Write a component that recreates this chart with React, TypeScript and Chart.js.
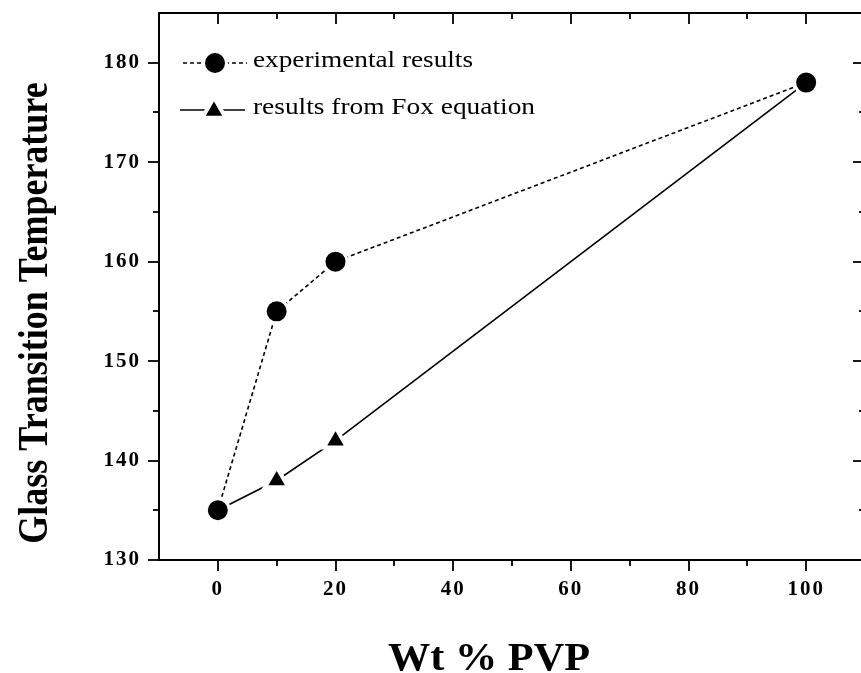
import React, { useEffect, useRef } from "react";
import { Chart, registerables } from "chart.js";

Chart.register(...registerables);

// ---- data ----
const wtPVP = [0, 10, 20, 100];
const experimental = [135, 155, 160, 178];
const foxEquation = [135, 138, 142, 178];
const xTickValues = [0, 20, 40, 60, 80, 100];
const xMinorValues = [10, 30, 50, 70, 90];
const yTickValues = [130, 140, 150, 160, 170, 180];
const yMinorValues = [135, 145, 155, 165, 175];
const seriesLabels = ["experimental results", "results from Fox equation"];
const xTitle = "Wt % PVP";
const yTitle = "Glass Transition Temperature";

const SERIF = "'Liberation Serif', 'Times New Roman', serif";
const W = 872;
const H = 673;

function fitText(ctx: CanvasRenderingContext2D, text: string, x: number, y: number, width: number) {
  const w = ctx.measureText(text).width;
  ctx.save();
  ctx.translate(x, y);
  ctx.scale(width / w, 1);
  ctx.fillText(text, 0, 0);
  ctx.restore();
}

function zeroPad(s: any) {
  s.paddingTop = 0;
  s.paddingBottom = 0;
  s.paddingLeft = 0;
  s.paddingRight = 0;
}

const framePlugin = {
  id: "frame",
  beforeDraw(chart: any) {
    (chart.ctx as any).letterSpacing = "2px";
  },
  beforeDatasetsDraw(chart: any) {
    const { ctx, chartArea: a, scales } = chart;
    const x = scales.x;
    const y = scales.y;
    ctx.save();
    (ctx as any).letterSpacing = "0px";
    ctx.strokeStyle = "#000";
    ctx.lineWidth = 2;
    ctx.strokeRect(a.left, a.top, a.right - a.left, a.bottom - a.top);
    ctx.lineWidth = 1.8;
    const seg = (x1: number, y1: number, x2: number, y2: number) => {
      ctx.beginPath();
      ctx.moveTo(x1, y1);
      ctx.lineTo(x2, y2);
      ctx.stroke();
    };
    xTickValues.forEach((v) => {
      const p = Math.round(x.getPixelForValue(v));
      seg(p, a.bottom, p, a.bottom + 11);
      seg(p, a.top, p, a.top + 11);
    });
    xMinorValues.forEach((v) => {
      const p = Math.round(x.getPixelForValue(v));
      seg(p, a.bottom, p, a.bottom + 6);
      seg(p, a.top, p, a.top + 6);
    });
    yTickValues.forEach((v) => {
      const p = Math.round(y.getPixelForValue(v));
      seg(a.left - 11, p, a.left, p);
      seg(a.right - 12, p, a.right, p);
    });
    yMinorValues.forEach((v) => {
      const p = Math.round(y.getPixelForValue(v));
      seg(a.left - 6, p, a.left, p);
      seg(a.right - 6, p, a.right, p);
    });
    ctx.restore();
  },
  afterDraw(chart: any) {
    const { ctx } = chart;
    ctx.save();
    (ctx as any).letterSpacing = "0px";
    ctx.fillStyle = "#000";
    ctx.strokeStyle = "#000";

    // legend row 1
    const r1 = 63;
    ctx.lineWidth = 1.6;
    ctx.setLineDash([4, 3]);
    ctx.beginPath();
    ctx.moveTo(183, r1);
    ctx.lineTo(247, r1);
    ctx.stroke();
    ctx.setLineDash([]);
    ctx.beginPath();
    ctx.arc(215, r1, 11.5, 0, Math.PI * 2);
    ctx.fillStyle = "#000";
    ctx.fill();
    ctx.lineWidth = 3;
    ctx.strokeStyle = "#fff";
    ctx.stroke();

    // legend row 2
    const r2 = 110;
    ctx.strokeStyle = "#000";
    ctx.lineWidth = 1.6;
    ctx.beginPath();
    ctx.moveTo(180, r2);
    ctx.lineTo(245, r2);
    ctx.stroke();
    const tr = 13.5;
    ctx.beginPath();
    for (let i = 0; i < 3; i++) {
      const ang = (i * 2 * Math.PI) / 3;
      const px = 214 + Math.sin(ang) * tr;
      const py = r2 + 1 - Math.cos(ang) * tr;
      if (i === 0) ctx.moveTo(px, py);
      else ctx.lineTo(px, py);
    }
    ctx.closePath();
    ctx.fillStyle = "#000";
    ctx.fill();
    ctx.lineWidth = 4;
    ctx.strokeStyle = "#fff";
    ctx.stroke();

    ctx.fillStyle = "#000";
    ctx.font = `24px ${SERIF}`;
    ctx.textBaseline = "middle";
    ctx.textAlign = "left";
    fitText(ctx, seriesLabels[0], 253, r1 - 2, 220);
    fitText(ctx, seriesLabels[1], 253, r2 - 2, 282);

    // x title
    ctx.font = `bold 40px ${SERIF}`;
    ctx.textBaseline = "alphabetic";
    ctx.textAlign = "left";
    fitText(ctx, xTitle, 388, 670, 202);

    // y title
    ctx.font = `bold 36px ${SERIF}`;
    ctx.save();
    ctx.translate(47, 313);
    ctx.rotate(-Math.PI / 2);
    ctx.scale(1, 1.2);
    ctx.textAlign = "center";
    ctx.textBaseline = "alphabetic";
    ctx.fillText(yTitle, 0, 0);
    ctx.restore();

    ctx.restore();
  },
};

export default function App() {
  const ref = useRef<HTMLCanvasElement>(null);
  useEffect(() => {
    document.body.style.overflow = "hidden";
    document.documentElement.style.overflow = "hidden";
    const canvas = ref.current!;
    const chart = new Chart(canvas, {
      type: "line",
      data: {
        datasets: [
          {
            label: seriesLabels[0],
            data: wtPVP.map((x, i) => ({ x, y: experimental[i] })),
            borderColor: "#000",
            borderWidth: 1.6,
            borderDash: [4, 3],
            pointStyle: "circle",
            pointRadius: 11.5,
            pointBorderWidth: 3,
            pointBorderColor: "#fff",
            pointBackgroundColor: "#000",
            tension: 0,
          },
          {
            label: seriesLabels[1],
            data: wtPVP.map((x, i) => ({ x, y: foxEquation[i] })),
            borderColor: "#000",
            borderWidth: 1.6,
            pointStyle: "triangle",
            pointRadius: [0, 13.5, 13.5, 0],
            pointBorderWidth: 4,
            pointBorderColor: "#fff",
            pointBackgroundColor: "#000",
            tension: 0,
          },
        ],
      },
      options: {
        responsive: false,
        animation: false,
        events: [],
        layout: { autoPadding: false, padding: { left: 0, right: W - 865, top: 13, bottom: 0 } },
        plugins: { legend: { display: false }, tooltip: { enabled: false } },
        scales: {
          x: {
            type: "linear",
            min: -10,
            max: 110,
            grid: { display: false, drawTicks: false },
            border: { display: false },
            ticks: {
              padding: 17,
              color: "#000",
              font: { family: SERIF, size: 21, weight: "bold" },
              maxRotation: 0,
              callback: (v: any) => String(v),
            },
            afterBuildTicks: (s: any) => {
              s.ticks = xTickValues.map((v) => ({ value: v }));
            },
            afterFit: (s: any) => {
              s.height = 113;
              zeroPad(s);
            },
          },
          y: {
            type: "linear",
            min: 130,
            max: 185,
            grid: { display: false, drawTicks: false },
            border: { display: false },
            ticks: {
              padding: 18,
              color: "#000",
              font: { family: SERIF, size: 21, weight: "bold" },
              callback: (v: any) => String(v),
            },
            afterBuildTicks: (s: any) => {
              s.ticks = yTickValues.map((v) => ({ value: v }));
            },
            afterFit: (s: any) => {
              s.width = 159;
              zeroPad(s);
            },
          },
        },
      },
      plugins: [framePlugin],
    } as any);
    return () => chart.destroy();
  }, []);
  return (
    <div style={{ position: "fixed", left: 0, top: 0, width: W, height: H, background: "#fff" }}>
      <canvas ref={ref} width={W} height={H} style={{ width: W, height: H, display: "block" }} />
    </div>
  );
}
